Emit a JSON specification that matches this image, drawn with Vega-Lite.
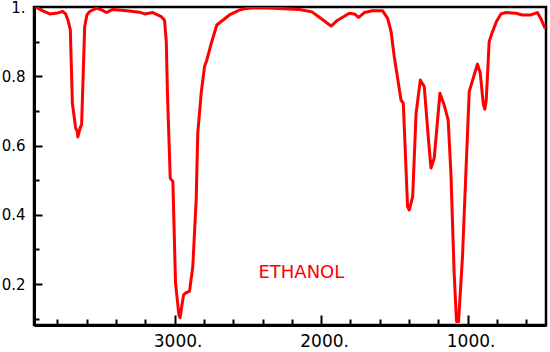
{
  "$schema": "https://vega.github.io/schema/vega-lite/v6.json",
  "width": 512,
  "height": 318,
  "autosize": "none",
  "padding": {"left": 34, "top": 7, "right": 4, "bottom": 27},
  "background": "white",
  "config": {
    "view": {"stroke": "black", "strokeWidth": 2.5},
    "axis": {
      "grid": false,
      "domainColor": "black",
      "domainWidth": 3,
      "tickColor": "black",
      "tickWidth": 2,
      "labelFont": "DejaVu Sans",
      "labelFontSize": 15,
      "labelColor": "black",
      "title": null
    }
  },
  "datasets": {
    "spectrum": [
      {"wn": 3948, "t": 1.0},
      {"wn": 3907, "t": 0.99},
      {"wn": 3853, "t": 0.98},
      {"wn": 3798, "t": 0.983},
      {"wn": 3764, "t": 0.987},
      {"wn": 3744, "t": 0.98},
      {"wn": 3728, "t": 0.962},
      {"wn": 3712, "t": 0.934},
      {"wn": 3698, "t": 0.722},
      {"wn": 3676, "t": 0.651},
      {"wn": 3664, "t": 0.64},
      {"wn": 3661, "t": 0.625},
      {"wn": 3642, "t": 0.655},
      {"wn": 3635, "t": 0.66},
      {"wn": 3626, "t": 0.78},
      {"wn": 3614, "t": 0.943},
      {"wn": 3599, "t": 0.977},
      {"wn": 3580, "t": 0.987},
      {"wn": 3535, "t": 0.996},
      {"wn": 3505, "t": 0.993},
      {"wn": 3466, "t": 0.984},
      {"wn": 3423, "t": 0.993},
      {"wn": 3342, "t": 0.99},
      {"wn": 3239, "t": 0.985},
      {"wn": 3205, "t": 0.98},
      {"wn": 3149, "t": 0.984},
      {"wn": 3091, "t": 0.972},
      {"wn": 3069, "t": 0.962},
      {"wn": 3057, "t": 0.9},
      {"wn": 3049, "t": 0.75},
      {"wn": 3030, "t": 0.506},
      {"wn": 3012, "t": 0.496},
      {"wn": 2994, "t": 0.204},
      {"wn": 2971, "t": 0.112},
      {"wn": 2963, "t": 0.103},
      {"wn": 2950, "t": 0.14},
      {"wn": 2939, "t": 0.169},
      {"wn": 2926, "t": 0.174},
      {"wn": 2898, "t": 0.18},
      {"wn": 2876, "t": 0.251},
      {"wn": 2853, "t": 0.443},
      {"wn": 2842, "t": 0.636},
      {"wn": 2819, "t": 0.751},
      {"wn": 2796, "t": 0.828},
      {"wn": 2780, "t": 0.847},
      {"wn": 2750, "t": 0.895},
      {"wn": 2712, "t": 0.948},
      {"wn": 2682, "t": 0.958},
      {"wn": 2626, "t": 0.977},
      {"wn": 2558, "t": 0.991},
      {"wn": 2512, "t": 0.996},
      {"wn": 2421, "t": 0.998},
      {"wn": 2285, "t": 0.996},
      {"wn": 2149, "t": 0.993},
      {"wn": 2062, "t": 0.986},
      {"wn": 2001, "t": 0.967},
      {"wn": 1932, "t": 0.945},
      {"wn": 1887, "t": 0.962},
      {"wn": 1808, "t": 0.982},
      {"wn": 1773, "t": 0.98},
      {"wn": 1744, "t": 0.97},
      {"wn": 1705, "t": 0.984},
      {"wn": 1649, "t": 0.989},
      {"wn": 1580, "t": 0.989},
      {"wn": 1546, "t": 0.967},
      {"wn": 1523, "t": 0.93},
      {"wn": 1501, "t": 0.857},
      {"wn": 1455, "t": 0.732},
      {"wn": 1439, "t": 0.722},
      {"wn": 1410, "t": 0.424},
      {"wn": 1398, "t": 0.414},
      {"wn": 1375, "t": 0.453},
      {"wn": 1352, "t": 0.693},
      {"wn": 1323, "t": 0.789},
      {"wn": 1296, "t": 0.77},
      {"wn": 1267, "t": 0.616},
      {"wn": 1250, "t": 0.535},
      {"wn": 1228, "t": 0.564},
      {"wn": 1189, "t": 0.751},
      {"wn": 1160, "t": 0.717},
      {"wn": 1133, "t": 0.674},
      {"wn": 1114, "t": 0.52},
      {"wn": 1092, "t": 0.232},
      {"wn": 1076, "t": 0.092},
      {"wn": 1062, "t": 0.092},
      {"wn": 1035, "t": 0.28},
      {"wn": 1012, "t": 0.52},
      {"wn": 989, "t": 0.756},
      {"wn": 933, "t": 0.835},
      {"wn": 914, "t": 0.81},
      {"wn": 893, "t": 0.72},
      {"wn": 883, "t": 0.705},
      {"wn": 873, "t": 0.73},
      {"wn": 853, "t": 0.9},
      {"wn": 830, "t": 0.929},
      {"wn": 803, "t": 0.958},
      {"wn": 773, "t": 0.98},
      {"wn": 739, "t": 0.984},
      {"wn": 671, "t": 0.982},
      {"wn": 626, "t": 0.977},
      {"wn": 569, "t": 0.977},
      {"wn": 524, "t": 0.984},
      {"wn": 501, "t": 0.967},
      {"wn": 471, "t": 0.938}
    ],
    "label": [
      {"wn": 2135, "t": 0.217, "name": "ETHANOL"}
    ]
  },
  "layer": [
    {
      "data": {"name": "spectrum"},
      "mark": {"type": "line", "color": "#ff0000", "strokeWidth": 3, "clip": true, "strokeJoin": "round"},
      "encoding": {
        "x": {
          "field": "wn", "type": "quantitative",
          "scale": {"domain": [465, 3960], "reverse": true, "nice": false, "zero": false},
          "axis": {
            "orient": "bottom",
            "values": [1000, 2000, 3000],
            "tickSize": -10,
            "labelPadding": 18,
            "labelFontSize": 17,
            "labelOffset": 3,
            "labelExpr": "datum.value + '.'"
          }
        },
        "y": {
          "field": "t", "type": "quantitative",
          "scale": {"domain": [0.082, 1.0], "nice": false, "zero": false},
          "axis": {
            "orient": "left",
            "values": [0.2, 0.4, 0.6, 0.8, 1.0],
            "tickSize": -8,
            "labelPadding": 17,
            "labelExpr": "datum.value == 1 ? '1.' : format(datum.value, '.1f')"
          }
        }
      }
    },
    {
      "data": {"name": "label"},
      "mark": {"type": "text", "color": "#ff0000", "font": "DejaVu Sans", "fontSize": 18, "align": "center", "baseline": "alphabetic"},
      "encoding": {
        "x": {
          "field": "wn", "type": "quantitative",
          "axis": {
            "orient": "bottom",
            "values": [600, 800, 1200, 1400, 1600, 1800, 2200, 2400, 2600, 2800, 3200, 3400, 3600, 3800],
            "tickSize": -6,
            "labels": false,
            "domain": false
          }
        },
        "y": {
          "field": "t", "type": "quantitative",
          "axis": {
            "orient": "left",
            "values": [0.1, 0.3, 0.5, 0.7, 0.9],
            "tickSize": -5,
            "labels": false,
            "domain": false
          }
        },
        "text": {"field": "name"}
      }
    }
  ],
  "resolve": {"axis": {"x": "independent", "y": "independent"}}
}
